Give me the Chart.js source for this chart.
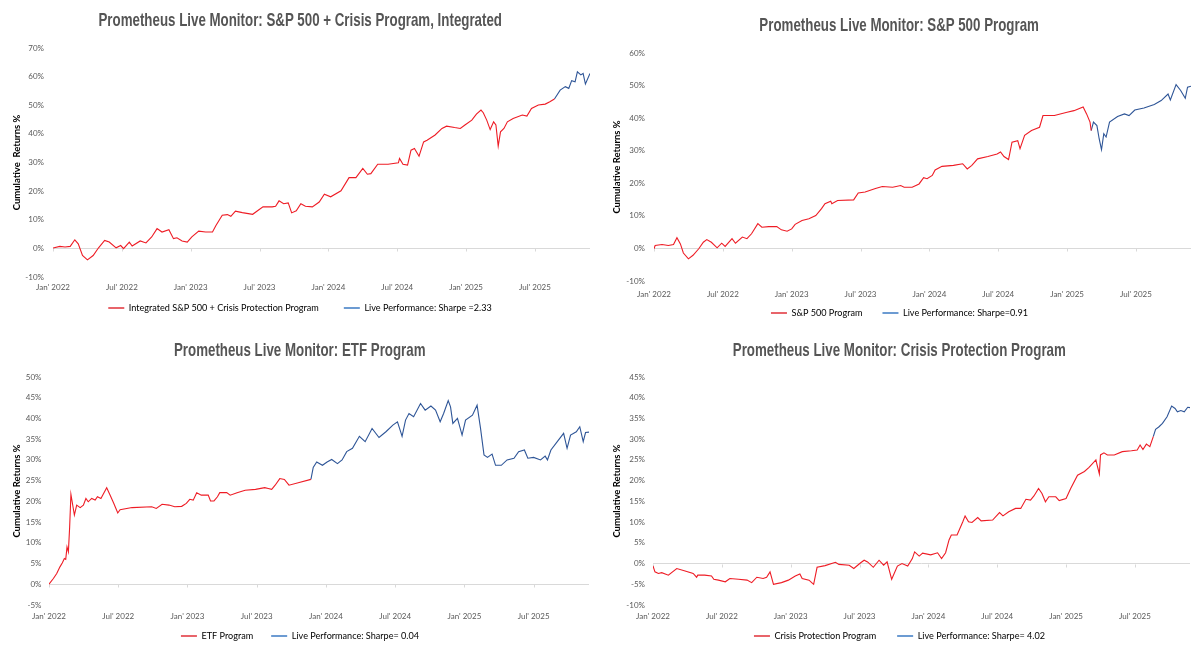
<!DOCTYPE html>
<html><head><meta charset="utf-8">
<script src="https://cdn.jsdelivr.net/npm/chart.js@4.4.1/dist/chart.umd.min.js"></script>
<style>
html,body{margin:0;padding:0;background:#fff;}
body{width:1199px;height:654px;position:relative;overflow:hidden;}
.cell{position:absolute;height:327px;}
.cell canvas{position:absolute;left:0;top:0;}
.ttl{position:absolute;left:0;width:100%;text-align:center;height:24px;line-height:24px;font-family:"Liberation Sans Narrow","Liberation Sans",sans-serif;font-weight:bold;font-size:18.5px;color:#555555;white-space:nowrap;z-index:2;}
.ttl span{display:inline-block;transform:scaleX(0.72);transform-origin:50% 50%;}
</style></head>
<body>
<div class="cell" style="left:0;top:0;width:600px;"><div class="ttl" style="top:8px"><span>Prometheus Live Monitor: S&amp;P 500 + Crisis Program, Integrated</span></div><canvas id="c1" width="600" height="327"></canvas></div>
<div class="cell" style="left:600px;top:0;width:599px;"><div class="ttl" style="top:13px"><span>Prometheus Live Monitor: S&amp;P 500 Program</span></div><canvas id="c2" width="599" height="327"></canvas></div>
<div class="cell" style="left:0;top:327px;width:600px;"><div class="ttl" style="top:11px"><span>Prometheus Live Monitor: ETF Program</span></div><canvas id="c3" width="600" height="327"></canvas></div>
<div class="cell" style="left:600px;top:327px;width:599px;"><div class="ttl" style="top:11px"><span>Prometheus Live Monitor: Crisis Protection Program</span></div><canvas id="c4" width="599" height="327"></canvas></div>
<script>
// x values are months since Jan 2022; y values are cumulative returns in %
const xTickLabels = ["Jan' 2022","Jul' 2022","Jan' 2023","Jul' 2023","Jan' 2024","Jul' 2024","Jan' 2025","Jul' 2025"];

// Chart 1: Integrated S&P 500 + Crisis Protection
const c1BacktestX = [0,0.6,1.05,1.5,1.9,2.2,2.57,3.0,3.5,3.97,4.5,4.9,5.5,5.9,6.15,6.65,6.9,7.6,8.1,8.6,9.07,9.5,10.1,10.5,10.8,11.25,11.7,12.1,12.7,13.3,13.9,14.2,14.75,15.2,15.5,15.9,16.5,17.4,18.3,19.1,19.4,19.7,20.1,20.5,20.8,21.2,21.6,22.0,22.6,23.2,23.65,24.2,25.1,25.8,26.4,27.0,27.4,27.7,28.3,29.2,30.1,30.2,30.5,30.9,31.2,31.5,31.9,32.3,32.6,33.3,33.9,34.3,35.0,35.5,35.9,36.5,36.9,37.3,37.5,37.8,38.1,38.4,38.6,38.8,39.0,39.3,39.6,40.1,40.9,41.3,41.7,42.3,42.9,43.3,43.7];
const c1BacktestY = [0.1,0.7,0.5,0.7,3.0,1.6,-2.5,-4.0,-2.5,0.2,2.8,2.2,0.2,1.0,-0.1,2.2,0.8,2.6,1.9,4.0,6.9,5.7,6.5,3.4,3.7,2.6,2.2,4.0,6.0,5.7,5.7,8.0,11.6,11.8,11.2,13.0,12.5,11.9,14.5,14.5,14.7,16.6,15.6,15.9,12.4,13.1,15.6,14.7,14.5,16.2,18.9,18.0,20.1,24.7,24.7,27.9,25.9,26.1,29.4,29.4,29.9,31.4,29.4,29.1,34.3,34.9,32.2,37.2,37.8,39.6,41.9,42.7,42.2,41.9,43.1,44.8,46.9,48.3,47.4,44.8,41.5,44.2,43.1,35.7,40.7,41.9,44.2,45.4,46.6,46.2,48.9,50.1,50.4,51.2,52.2];
const c1LiveX = [43.7,44.2,44.65,44.95,45.2,45.5,45.7,46.0,46.2,46.4,46.8];
const c1LiveY = [52.2,55.3,56.5,55.9,58.6,58.2,61.7,60.6,61.1,57.4,61.1];

// Chart 2: S&P 500 Program
const c2BacktestX = [0,0.1,0.7,1.25,1.7,2.0,2.3,2.56,3.0,3.4,3.9,4.3,4.6,5.0,5.5,5.9,6.2,6.8,7.1,7.7,8.1,8.5,9.05,9.4,10.0,10.7,11.1,11.6,12.0,12.3,12.9,13.5,14.1,14.6,14.9,15.4,15.5,16.0,17.4,17.8,18.4,19.3,19.9,20.8,21.5,21.8,22.5,23.1,23.5,23.8,24.25,24.5,25.1,26.1,26.9,27.3,27.7,28.2,29.1,29.9,30.2,30.5,30.9,31.2,31.7,31.9,32.3,32.9,33.6,33.9,34.9,35.4,36.0,36.6,37.4,37.7,38.0,38.1];
const c2BacktestY = [-0.1,0.9,1.2,0.9,1.2,3.3,1.4,-1.4,-3.2,-2.1,-0.1,1.9,2.7,1.9,0.2,1.6,0.6,3.0,1.6,3.5,3.0,4.5,7.6,6.5,6.7,6.7,5.7,5.3,6.0,7.4,8.6,9.1,10.1,12.2,13.7,14.5,13.7,14.7,14.9,17.0,17.3,18.4,19.0,18.8,19.3,18.8,18.8,19.8,21.7,21.4,22.4,24.1,25.2,25.5,26.0,24.4,25.5,27.5,28.2,29.0,29.6,28.2,27.3,32.6,33.1,30.6,34.7,36.2,37.2,40.8,40.8,41.3,41.8,42.3,43.4,41.3,38.8,36.2];
const c2LiveX = [38.1,38.3,38.6,38.8,39.0,39.2,39.4,39.7,40.4,41.0,41.4,41.9,42.7,43.6,44.2,44.8,45.0,45.5,45.9,46.3,46.5,46.8];
const c2LiveY = [36.2,38.8,37.7,33.6,30.3,35.2,34.2,38.8,40.5,41.3,40.8,42.5,43.1,44.2,45.4,47.4,45.6,50.3,48.5,46.1,49.5,49.8];

// Chart 3: ETF Program
const c3BacktestX = [0,0.38,0.67,0.95,1.16,1.33,1.45,1.56,1.68,1.79,1.9,2.08,2.2,2.4,2.7,2.98,3.2,3.4,3.7,4.0,4.2,4.5,5.0,5.3,5.6,5.8,5.96,6.16,7.2,8.9,9.3,9.8,10.4,10.9,11.5,11.9,12.2,12.5,12.8,13.2,13.8,14.0,14.3,14.6,14.8,15.4,15.7,16.3,17.0,17.9,18.7,19.0,19.3,19.6,20.0,20.4,20.8,21.6,22.7];
const c3BacktestY = [0,1.4,2.6,4.2,5.2,6.2,6.0,9.0,7.8,13.8,21.7,18.7,16.7,19.1,18.5,19.1,20.7,19.9,20.7,20.3,21.1,20.7,23.3,21.5,19.6,18.3,17.2,18.0,18.5,18.7,18.3,19.3,19.1,18.7,18.8,19.5,20.5,20.3,22.1,21.5,21.5,20.1,20.1,21.1,22.1,22.1,21.5,22.1,22.7,22.9,23.3,23.1,22.9,23.9,25.5,25.3,23.9,24.5,25.3];
const c3LiveX = [22.7,22.9,23.2,23.7,24.1,24.5,25.0,25.4,25.8,26.3,26.9,27.4,28.0,28.6,29.2,29.8,30.2,30.5,30.6,30.9,31.2,31.6,32.2,32.6,33.1,33.5,33.9,34.2,34.6,34.8,35.0,35.4,35.8,36.1,36.7,37.1,37.4,37.7,38.0,38.4,38.7,39.2,39.7,40.3,40.7,41.2,41.5,42.0,42.6,43.0,43.2,43.5,44.05,44.6,44.9,45.2,45.7,46.0,46.3,46.5,46.8];
const c3LiveY = [25.3,28.2,29.5,28.7,29.5,30.1,29.1,30.0,32.0,32.8,35.7,34.4,37.6,35.4,36.8,38.4,39.2,36.6,35.7,39.6,41.2,40.4,43.6,42.0,43.0,42.0,39.2,41.2,44.3,42.8,38.8,40.0,36.0,39.6,40.8,43.2,37.6,31.2,30.6,31.4,28.7,28.7,30.0,30.4,32.0,32.4,30.4,30.6,30.0,30.9,30.0,32.4,34.4,36.4,32.8,36.0,36.8,38.0,34.4,36.6,36.7];

// Chart 4: Crisis Protection Program
const c4BacktestX = [0,0.17,0.47,0.76,1.34,2.07,2.8,3.5,3.8,3.9,4.5,5.1,5.3,5.7,6.3,6.7,7.45,8.2,8.6,9.05,9.6,9.9,10.2,10.5,11.2,11.8,12.4,12.8,13.0,13.6,13.9,14.0,14.3,15.0,15.9,16.2,17.1,17.5,18.1,18.4,18.7,19.2,19.7,20.1,20.4,20.8,21.3,21.7,22.2,22.6,22.8,23.2,23.5,24.2,24.8,25.15,25.5,25.8,26.0,26.5,27.0,27.2,27.5,27.8,28.3,28.6,29.6,30.2,30.5,31.0,31.6,32.05,32.5,32.9,33.2,33.6,33.9,34.2,34.5,35.1,35.4,36.0,36.4,37.0,37.6,38.0,38.6,38.7,38.9,39.0,39.3,39.6,40.2,40.9,41.7,42.2,42.45,42.7,43.0,43.3,43.6];
const c4BacktestY = [-0.6,-2.0,-2.4,-2.2,-2.8,-1.2,-1.8,-2.4,-3.3,-2.8,-2.8,-3.0,-3.8,-4.0,-4.4,-3.6,-3.8,-4.0,-4.6,-3.3,-3.6,-3.3,-2.0,-5.0,-4.6,-4.0,-3.0,-2.5,-3.6,-4.0,-4.8,-5.0,-0.9,-0.5,0.3,-0.2,-0.4,-1.2,0.2,0.8,0.4,-0.9,0.8,-0.4,0.4,-3.8,-0.6,0.0,-0.6,1.2,2.8,1.8,2.5,2.1,2.6,1.2,2.6,5.7,6.9,6.9,10.1,11.5,10.1,9.9,11.1,10.3,10.5,12.3,11.5,12.5,13.3,13.3,15.5,15.3,16.3,18.1,16.9,14.9,16.1,16.1,15.2,15.7,18.1,21.3,22.2,23.2,25.0,23.8,21.6,26.2,26.7,26.2,26.2,27.0,27.2,27.4,28.6,27.5,28.8,28.2,30.6];
const c4LiveX = [43.6,43.8,44.1,44.4,44.8,45.2,45.5,45.7,46.0,46.3,46.6,46.8];
const c4LiveY = [30.6,32.4,33.0,33.8,35.4,38.0,37.4,36.6,36.9,36.6,37.7,37.6];

const RED = '#ee1c25', BLUE = '#2e5597';
const RED_LEG = '#e8646a', BLUE_LEG = '#6c9bd2';

Chart.defaults.font.family = 'Lato, "Liberation Sans", sans-serif';
Chart.defaults.color = '#595959';

const zeroTicks = {
  id: 'zeroTicks',
  beforeDatasetsDraw(chart) {
    const {ctx, scales: {x, y}} = chart;
    const y0 = Math.round(y.getPixelForValue(0)) + 0.5;
    ctx.save();
    ctx.strokeStyle = '#d9d9d9';
    ctx.lineWidth = 1;
    x.ticks.forEach(t => {
      const px = Math.round(x.getPixelForValue(t.value)) + 0.5;
      ctx.beginPath(); ctx.moveTo(px, y0); ctx.lineTo(px, y0 + 3); ctx.stroke();
    });
    ctx.restore();
  }
};

// places the legend row (and its clip box) so its text centre sits at the requested height,
// centred across the full canvas width
const legendShift = {
  id: 'legendShift',
  afterLayout(chart, args, opts) {
    const lg = chart.legend;
    if (!lg || opts.y == null) return;
    const lab = lg.options.labels;
    const fs = (lab.font && lab.font.size) || 12;
    lg.top = opts.y - lab.padding - fs / 2;
    lg.bottom = opts.y + fs;
    lg.height = lg.bottom - lg.top;
    lg.left = 0;
    lg.right = chart.width;
    lg.width = chart.width;
  }
};

function pts(xs, ys) { return xs.map((v, i) => ({x: v, y: ys[i]})); }

function makeChart(id, bx, by, lx, ly, names, yMin, yMax, yStep, yTitle, lay) {
  new Chart(document.getElementById(id), {
    type: 'line',
    data: {
      datasets: [
        {label: names[0], data: pts(bx, by), borderColor: RED, legendColor: RED_LEG, borderWidth: 1.1, pointRadius: 0, tension: 0, fill: false},
        {label: names[1], data: pts(lx, ly), borderColor: BLUE, legendColor: BLUE_LEG, borderWidth: 1.1, pointRadius: 0, tension: 0, fill: false}
      ]
    },
    options: {
      responsive: false,
      animation: false,
      parsing: false,
      layout: {padding: {left: 0, right: lay.right, top: lay.top, bottom: lay.bottom}},
      plugins: {
        title: {display: false},
        tooltip: {enabled: false},
        legendShift: {y: lay.legY},
        legend: {
          position: 'bottom',
          maxHeight: 4,
          labels: {
            boxWidth: 16, boxHeight: 2, padding: lay.legPad,
            font: {size: 9.1}, color: '#595959',
            generateLabels: chart => chart.data.datasets.map((d, i) => ({
              text: d.label, fillStyle: d.legendColor, strokeStyle: d.legendColor,
              lineWidth: 0, hidden: false, datasetIndex: i
            }))
          }
        }
      },
      scales: {
        x: {
          type: 'linear', min: 0, max: 46.8,
          grid: {display: false, drawTicks: false}, border: {display: false},
          ticks: {
            stepSize: 6, includeBounds: false, autoSkip: false, maxRotation: 0,
            padding: lay.xPad, font: {size: 8}, color: '#595959',
            callback: v => (Number.isInteger(v / 6) && xTickLabels[v / 6]) ? xTickLabels[v / 6] : ''
          },
          afterFit: s => { s.height = lay.xH; }
        },
        y: {
          min: yMin, max: yMax,
          grid: {color: c => c.tick && c.tick.value === 0 ? '#d9d9d9' : 'rgba(0,0,0,0)', drawTicks: false, lineWidth: 1},
          border: {display: false},
          ticks: {stepSize: yStep, padding: lay.yPad, font: {size: 8}, color: '#595959', callback: v => v + '%'},
          title: {display: true, text: yTitle, color: '#000', font: {size: 9.5, weight: 'bold'}, padding: {top: 11.3, bottom: 0}},
          afterFit: s => { s.width = lay.yW; }
        }
      }
    },
    plugins: [zeroTicks, legendShift]
  });
}

makeChart('c1', c1BacktestX, c1BacktestY, c1LiveX, c1LiveY,
  ['Integrated S&P 500 + Crisis Protection Program', 'Live Performance: Sharpe =2.33'],
  -10, 70, 10, 'Cumulative  Returns %',
  {right: 10, top: 48, bottom: 30, xH: 16, xPad: 5.6, yPad: 9, yW: 53, legY: 308, legPad: 25});
makeChart('c2', c2BacktestX, c2BacktestY, c2LiveX, c2LiveY,
  ['S&P 500 Program', 'Live Performance: Sharpe=0.91'],
  -10, 60, 10, 'Cumulative Returns %',
  {right: 8, top: 53, bottom: 23, xH: 19, xPad: 8.6, yPad: 9, yW: 54, legY: 313, legPad: 20});
makeChart('c3', c3BacktestX, c3BacktestY, c3LiveX, c3LiveY,
  ['ETF Program', 'Live Performance: Sharpe= 0.04'],
  -5, 50, 5, 'Cumulative Returns %',
  {right: 11, top: 50, bottom: 28, xH: 17, xPad: 6.6, yPad: 7.5, yW: 49, legY: 309, legPad: 18});
makeChart('c4', c4BacktestX, c4BacktestY, c4LiveX, c4LiveY,
  ['Crisis Protection Program', 'Live Performance: Sharpe= 4.02'],
  -10, 45, 5, 'Cumulative Returns %',
  {right: 9, top: 50, bottom: 28, xH: 17, xPad: 6.6, yPad: 8, yW: 53, legY: 309, legPad: 21});
</script>
</body></html>
